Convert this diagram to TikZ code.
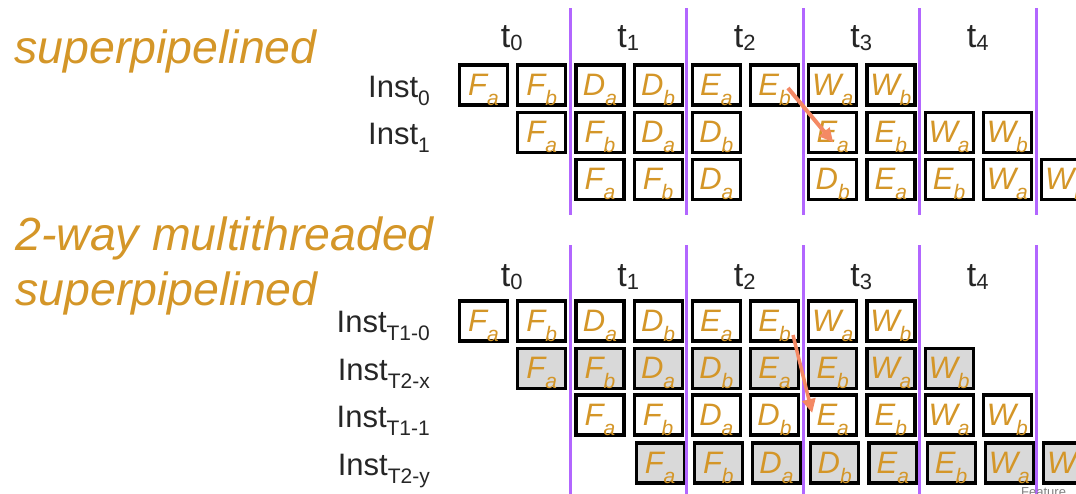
\documentclass[tikz,border=0pt]{standalone}
\usepackage{fontspec}
\setmainfont{Liberation Sans}
\usetikzlibrary{arrows.meta,calc}
\definecolor{gold}{RGB}{212,150,40}
\definecolor{vio}{RGB}{178,102,255}
\definecolor{salmon}{RGB}{244,137,100}
\definecolor{cellgray}{RGB}{217,217,217}
\newcommand\stg[2]{\raisebox{0pt}[20pt][0pt]{\fontsize{31}{31}\selectfont\itshape #1\raisebox{-10pt}{\fontsize{21}{21}\selectfont #2}}}
\newcommand\instlab[1]{Inst\raisebox{-8pt}{\fontsize{21}{21}\selectfont #1}}
\newcommand\tlab[1]{t\raisebox{-3pt}{\fontsize{22}{22}\selectfont #1}}
\tikzset{
  cell/.style={draw=black, line width=3.2pt, fill=white, minimum width=48pt, minimum height=40pt, inner sep=0pt, text=gold},
  graycell/.style={cell, fill=cellgray},
  title/.style={anchor=base west, font=\fontsize{46.5}{46.5}\selectfont\itshape, text=gold, inner sep=0pt},
  inst/.style={anchor=base east, font=\fontsize{31}{31}\selectfont, text=black!85, inner sep=0pt},
  tl/.style={anchor=base, font=\fontsize{34}{34}\selectfont, text=black!85, inner sep=0pt},
  divider/.style={draw=vio, line width=3pt},
  dep/.style={draw=salmon, line width=4pt, -{Triangle[length=14pt,width=13pt]}}
}
\begin{document}
\begin{tikzpicture}[x=1pt,y=-1pt]
\useasboundingbox (0,0) rectangle (1076,493);
% titles
\node[title] (title1) at (14,63) {superpipelined};
\node[title] (title2) at (15,250) {2-way multithreaded};
\node[title] (title3) at (15,305) {superpipelined};
% time labels
\foreach \k in {0,...,4} {
  \node[tl] (ta\k) at ({511.75+116.5*\k},47) {\tlab{\k}};
  \node[tl] (tb\k) at ({511.75+116.5*\k},286) {\tlab{\k}};
}
% instruction labels
\node[inst] (i0) at (430,97) {\instlab{0}};
\node[inst] (i1) at (430,144) {\instlab{1}};
\node[inst] (j0) at (430,332) {\instlab{T1-0}};
\node[inst] (j1) at (430,380) {\instlab{T2-x}};
\node[inst] (j2) at (430,427) {\instlab{T1-1}};
\node[inst] (j3) at (430,475) {\instlab{T2-y}};
% top pipeline
\foreach \c/\L/\s in {0/F/a,1/F/b,2/D/a,3/D/b,4/E/a,5/E/b,6/W/a,7/W/b}
  \node[cell] (u1-\c) at ({483.5+58.2*\c},85) {\stg{\L}{\s}};
\foreach \c/\L/\s in {1/F/a,2/F/b,3/D/a,4/D/b,6/E/a,7/E/b,8/W/a,9/W/b}
  \node[cell] (u2-\c) at ({483.5+58.2*\c},132.5) {\stg{\L}{\s}};
\foreach \c/\L/\s in {2/F/a,3/F/b,4/D/a,6/D/b,7/E/a,8/E/b,9/W/a,10/W/b}
  \node[cell] (u3-\c) at ({483.5+58.2*\c},179.5) {\stg{\L}{\s}};
% bottom pipeline
\foreach \c/\L/\s in {0/F/a,1/F/b,2/D/a,3/D/b,4/E/a,5/E/b,6/W/a,7/W/b}
  \node[cell] (b1-\c) at ({483.5+58.2*\c},321) {\stg{\L}{\s}};
\foreach \c/\L/\s in {1/F/a,2/F/b,3/D/a,4/D/b,5/E/a,6/E/b,7/W/a,8/W/b}
  \node[graycell] (b2-\c) at ({483.5+58.2*\c},368.5) {\stg{\L}{\s}};
\foreach \c/\L/\s in {2/F/a,3/F/b,4/D/a,5/D/b,6/E/a,7/E/b,8/W/a,9/W/b}
  \node[cell] (b3-\c) at ({483.5+58.2*\c},415) {\stg{\L}{\s}};
\foreach \c/\L/\s in {3/F/a,4/F/b,5/D/a,6/D/b,7/E/a,8/E/b,9/W/a,10/W/b}
  \node[graycell] (b4-\c) at ({485.5+58.2*\c},463) {\stg{\L}{\s}};
% dividers
\foreach \j in {0,...,4} {
  \coordinate (pt\j) at ({570+116.5*\j},8);
  \coordinate (pb\j) at ({570+116.5*\j},215);
  \coordinate (qt\j) at ({570+116.5*\j},245);
  \coordinate (qb\j) at ({570+116.5*\j},500);
  \draw[divider] (pt\j) -- (pb\j);
  \draw[divider] (qt\j) -- (qb\j);
}
% dependency arrows
\draw[dep] ($(u1-5.center)+(13.5,3)$) -- ($(u2-6.center)+(0.5,10)$);
\draw[dep, line width=3.5pt] ($(b1-5.center)+(18.5,14)$) -- ($(b3-6.center)+(-20.5,-2)$);
% clipped caption
\node[anchor=north west, font=\fontsize{13}{13}\selectfont, text=gray, inner sep=0pt] (feat) at (1021,487) {Feature};
\end{tikzpicture}
\end{document}
